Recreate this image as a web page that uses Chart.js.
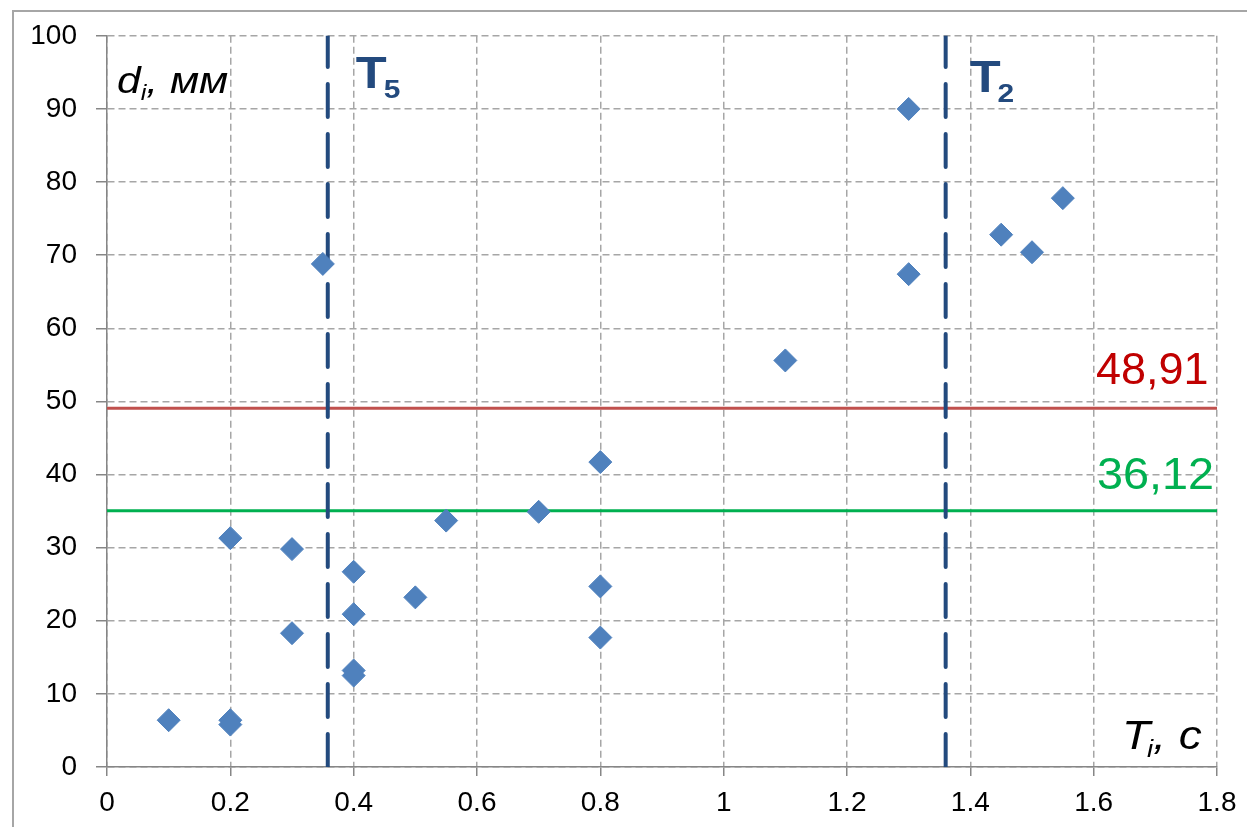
<!DOCTYPE html>
<html>
<head>
<meta charset="utf-8">
<title>d_i vs T_i</title>
<script src="https://cdn.jsdelivr.net/npm/chart.js@4/dist/chart.umd.min.js"></script>
<style>
    body { margin: 0; background: #ffffff; }
    #wrap { width: 1247px; height: 827px; position: relative; }
</style>
</head>
<body>
<div id="wrap"><canvas id="grafico" width="1247" height="827"></canvas></div>
<script>
// Datos
const periodos = [0.1, 0.2, 0.2, 0.2, 0.3, 0.3, 0.35, 0.4, 0.4, 0.4, 0.4, 0.5, 0.55, 0.7, 0.8, 0.8, 0.8, 1.1, 1.3, 1.3, 1.45, 1.5, 1.55];
const desplazamientos = [6.4, 6.4, 5.8, 31.3, 29.8, 18.3, 68.8, 26.7, 20.9, 13.2, 12.5, 23.2, 33.7, 34.9, 41.7, 24.7, 17.7, 55.6, 90.0, 67.4, 72.8, 70.4, 77.8];

// Líneas horizontales (nivel donde se dibuja y su etiqueta)
const nivelesY = [49.05, 35.05];
const nivelesTexto = ["48,91", "36,12"];

// Líneas verticales T5 y T2
const periodosT = [0.358, 1.36];
const nombresT = ["5", "2"];

const xTicks = [0, 0.2, 0.4, 0.6, 0.8, 1, 1.2, 1.4, 1.6, 1.8];
const yTicks = [0, 10, 20, 30, 40, 50, 60, 70, 80, 90, 100];

const puntos = periodos.map((x, i) => ({ x: x, y: desplazamientos[i] }));

const colorRojo = '#C0504D';
const colorRojoTexto = '#C00000';
const colorVerde = '#00B050';
const colorAzul = '#234A7E';
const fuente = '"Liberation Sans", Arial, sans-serif';
const estirar = 1.15; // el original está algo ensanchado

const datasets = [{
    label: 'd',
    type: 'scatter',
    data: puntos,
    pointStyle: 'rectRot',
    pointRadius: 11.5,
    pointHoverRadius: 11.5,
    backgroundColor: '#4F81BD',
    borderColor: '#4F81BD',
    borderWidth: 1,
    order: 1
}];

[colorRojo, colorVerde].forEach((c, i) => {
    datasets.push({
        type: 'line',
        data: [{ x: xTicks[0], y: nivelesY[i] }, { x: xTicks[xTicks.length - 1], y: nivelesY[i] }],
        borderColor: c,
        borderWidth: 3,
        pointRadius: 0,
        order: 3
    });
});

periodosT.forEach(t => {
    datasets.push({
        type: 'line',
        data: [{ x: t, y: yTicks[0] }, { x: t, y: yTicks[yTicks.length - 1] }],
        borderColor: colorAzul,
        borderWidth: 4,
        borderDash: [33, 17],
        borderCapStyle: 'round',
        pointRadius: 0,
        order: 2
    });
});

// Escribe texto ensanchado, devuelve el ancho usado
function texto(ctx, t, x, y, font, k = estirar) {
    ctx.font = font;
    ctx.save();
    ctx.translate(x, y);
    ctx.scale(k, 1);
    ctx.fillText(t, 0, 0);
    ctx.restore();
    return ctx.measureText(t).width * k;
}

// Textos dentro del gráfico
const textosPlugin = {
    id: 'textos',
    afterDraw(chart) {
        const ctx = chart.ctx;
        const sx = chart.scales.x;
        const sy = chart.scales.y;
        const area = chart.chartArea;
        ctx.save();

        // marco exterior (izquierda y arriba)
        ctx.strokeStyle = '#A6A6A6';
        ctx.lineWidth = 2;
        ctx.beginPath();
        ctx.moveTo(13, 827);
        ctx.lineTo(13, 11);
        ctx.lineTo(1247, 11);
        ctx.stroke();

        ctx.textBaseline = 'alphabetic';
        ctx.textAlign = 'left';

        // etiquetas de niveles
        ctx.fillStyle = colorRojoTexto;
        texto(ctx, nivelesTexto[0], 1096, sy.getPixelForValue(nivelesY[0]) - 24, '45px ' + fuente, 1.0);
        ctx.fillStyle = colorVerde;
        texto(ctx, nivelesTexto[1], 1097, sy.getPixelForValue(nivelesY[1]) - 22, '45px ' + fuente, 1.04);

        // T5 y T2
        ctx.fillStyle = colorAzul;
        periodosT.forEach((t, i) => {
            const px = sx.getPixelForValue(t) + (i === 0 ? 28 : 24);
            const base = i === 0 ? 88 : 92;
            const w = texto(ctx, 'T', px, base, 'bold 44px ' + fuente);
            texto(ctx, nombresT[i], px + w - 3, base + 10, 'bold 26px ' + fuente);
        });

        // títulos de ejes
        ctx.fillStyle = '#000000';
        let x0 = area.left + 10;
        x0 += texto(ctx, 'd', x0, 93, 'italic 37px ' + fuente);
        x0 += texto(ctx, 'i', x0, 100, 'italic 22px ' + fuente);
        texto(ctx, ', мм', x0, 93, 'italic 37px ' + fuente);

        x0 = 1122;
        x0 += texto(ctx, 'T', x0, 749, 'italic 40px ' + fuente) - 3;
        x0 += texto(ctx, 'i', x0, 757, 'italic 24px ' + fuente);
        texto(ctx, ', c', x0, 749, 'italic 40px ' + fuente);

        ctx.restore();
    }
};

const ctx = document.getElementById('grafico').getContext('2d');
const grafico = new Chart(ctx, {
    type: 'scatter',
    data: { datasets: datasets },
    options: {
        responsive: false,
        animation: false,
        layout: { padding: { left: 12, top: 33, right: 30, bottom: 0 } },
        plugins: {
            legend: { display: false },
            tooltip: { enabled: false }
        },
        scales: {
            x: {
                type: 'linear',
                min: 0,
                max: 1.8,
                afterBuildTicks: s => { s.ticks = xTicks.map(v => ({ value: v })); },
                afterFit: s => { s.height = 60; },
                grid: {
                    color: '#A6A6A6',
                    lineWidth: 1.5,
                    tickLength: 9,
                    tickColor: '#868686',
                    tickBorderDash: []
                },
                border: { display: true, color: '#868686', width: 1.5, dash: [7, 4] },
                ticks: {
                    color: '#000000',
                    padding: 10,
                    maxRotation: 0,
                    font: { family: fuente, size: 28 },
                    callback: v => String(Number(v.toFixed(1)))
                }
            },
            y: {
                type: 'linear',
                min: 0,
                max: 100,
                afterBuildTicks: s => { s.ticks = yTicks.map(v => ({ value: v })); },
                afterFit: s => { s.width = 95; },
                grid: {
                    color: '#A6A6A6',
                    lineWidth: 1.5,
                    tickLength: 11,
                    tickColor: '#868686',
                    tickBorderDash: []
                },
                border: { display: true, color: '#868686', width: 1.5, dash: [7, 4] },
                ticks: {
                    color: '#000000',
                    padding: 19,
                    font: { family: fuente, size: 28 }
                }
            }
        }
    },
    plugins: [textosPlugin]
});
</script>
</body>
</html>
